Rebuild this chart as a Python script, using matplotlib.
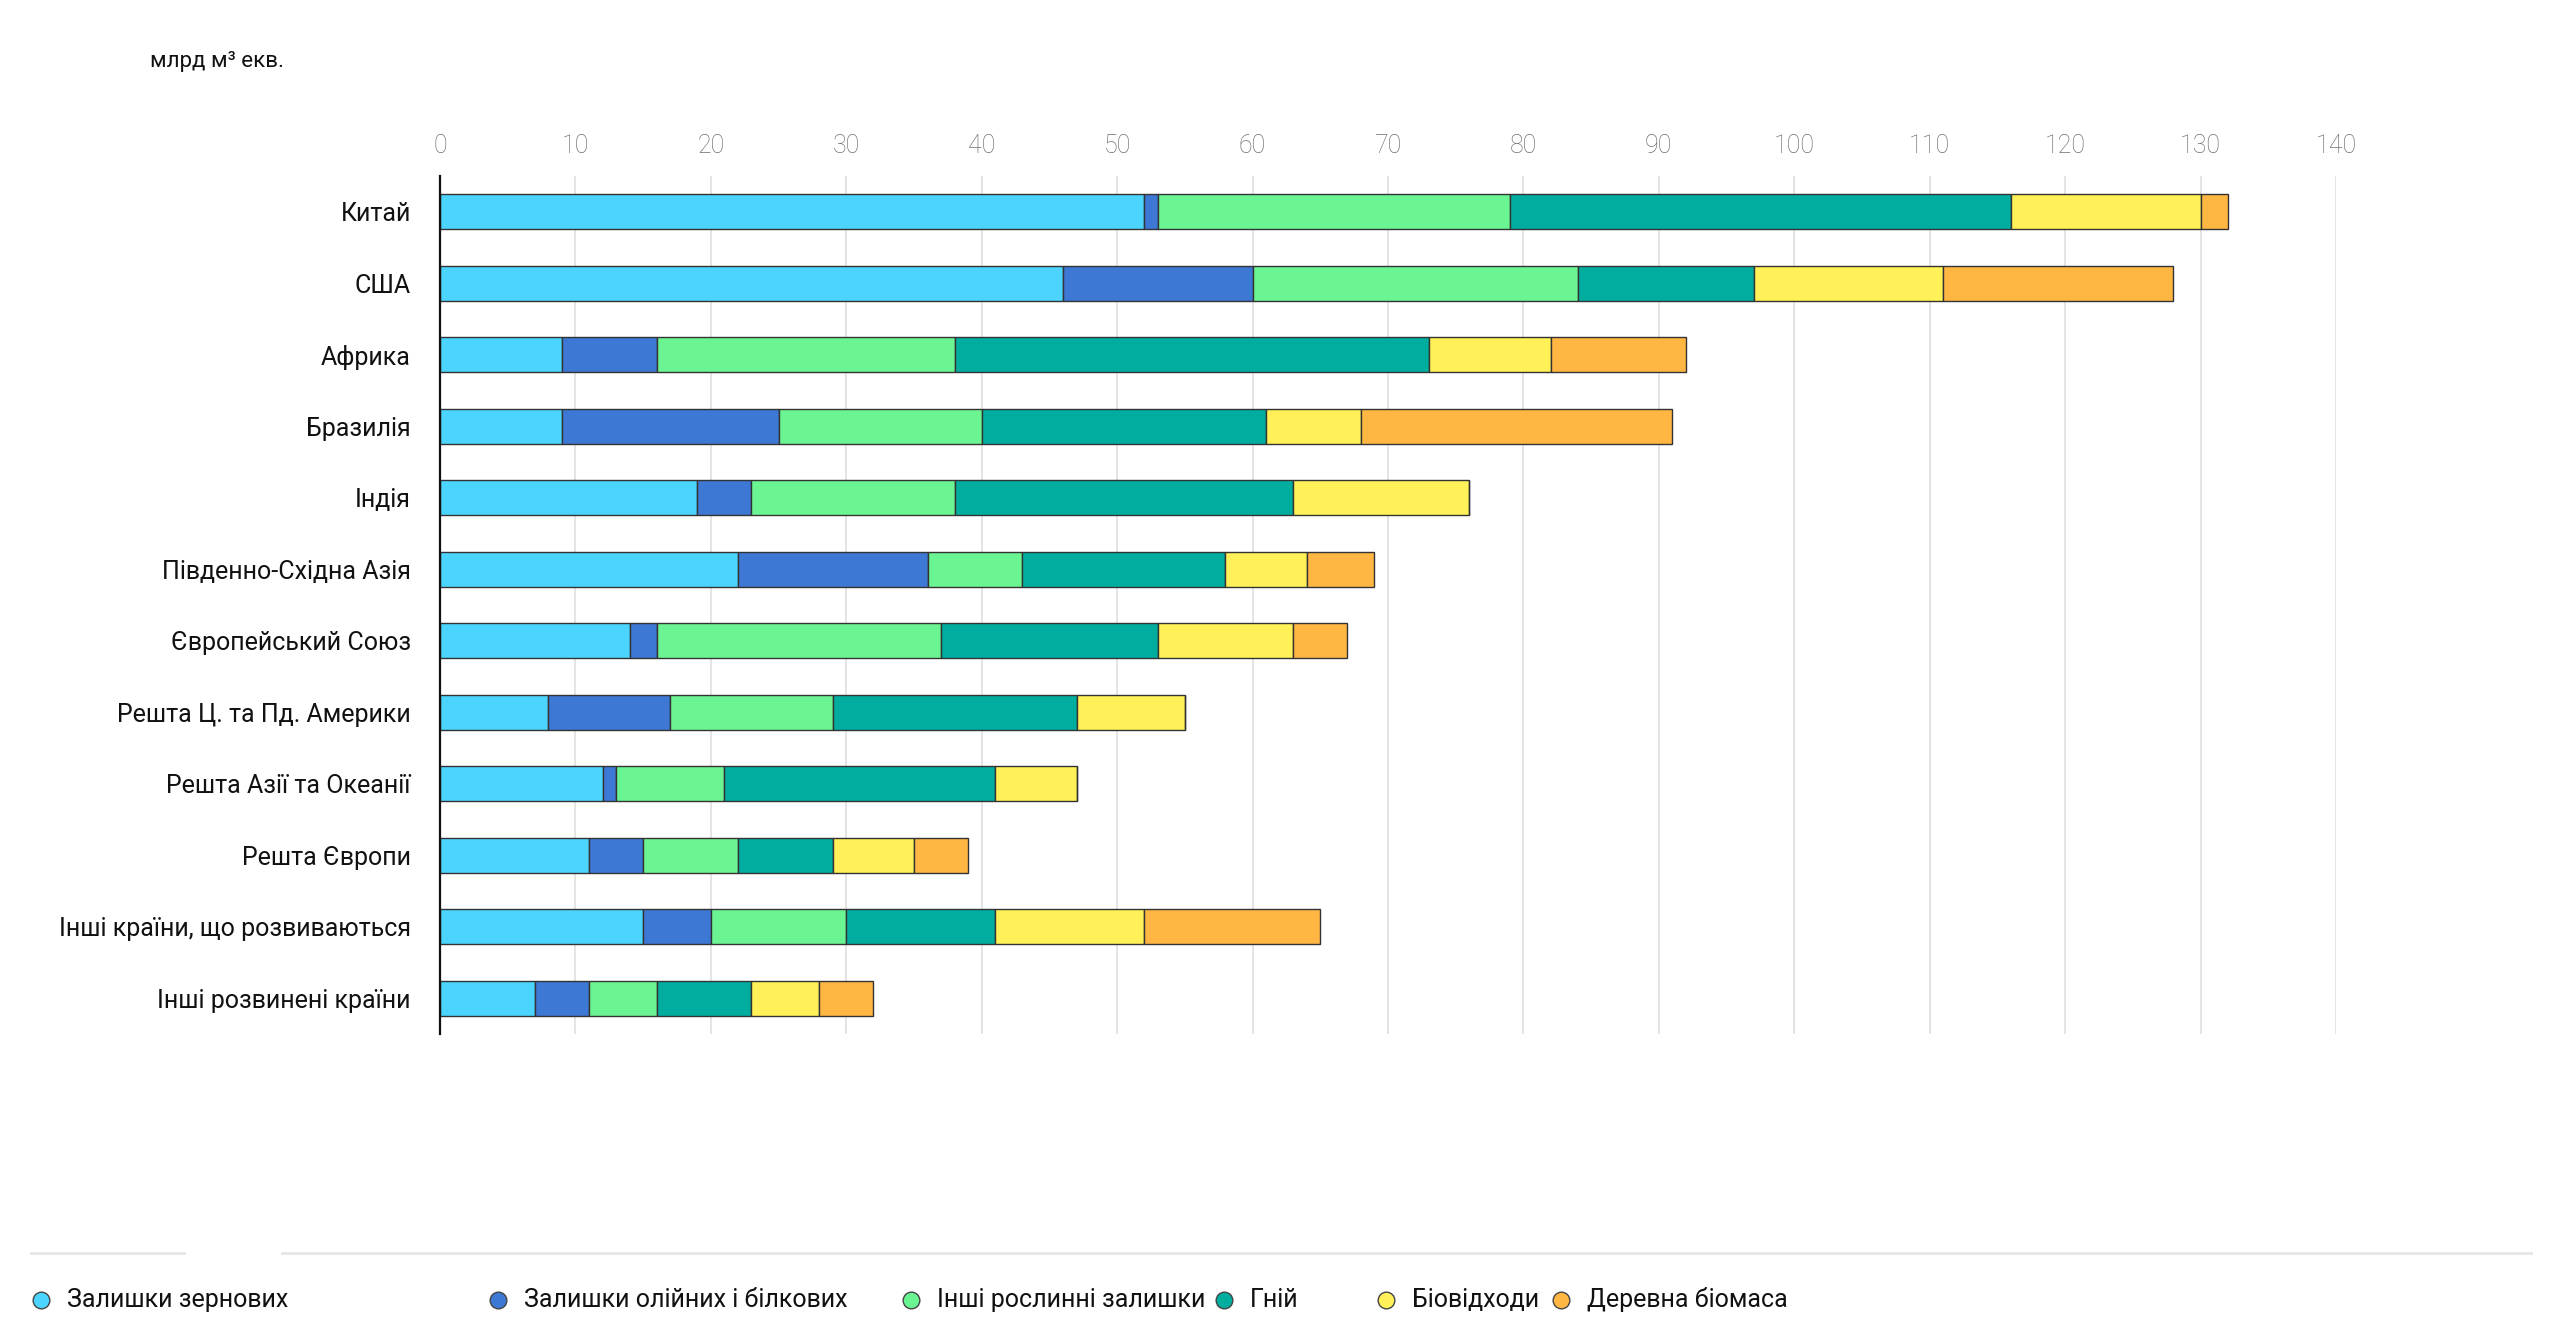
import matplotlib
matplotlib.use("Agg")
import matplotlib.pyplot as plt
from matplotlib.lines import Line2D
import numpy as np

plt.rcParams['font.family'] = ['Roboto', 'DejaVu Sans']

categories = ["Китай", "США", "Африка", "Бразилія", "Індія", "Південно-Східна Азія",
              "Європейський Союз", "Решта Ц. та Пд. Америки", "Решта Азії та Океанії",
              "Решта Європи", "Інші країни, що розвиваються", "Інші розвинені країни"]

series_names = ["Залишки зернових", "Залишки олійних і білкових", "Інші рослинні залишки",
                "Гній", "Біовідходи", "Деревна біомаса"]

grain    = [52, 46,  9,  9, 19, 22, 14,  8, 12, 11, 15, 7]
oilseed  = [ 1, 14,  7, 16,  4, 14,  2,  9,  1,  4,  5, 4]
other    = [26, 24, 22, 15, 15,  7, 21, 12,  8,  7, 10, 5]
manure   = [37, 13, 35, 21, 25, 15, 16, 18, 20,  7, 11, 7]
biowaste = [14, 14,  9,  7, 13,  6, 10,  8,  6,  6, 11, 5]
wood     = [ 2, 17, 10, 23,  0,  5,  4,  0,  0,  4, 13, 4]

series = [grain, oilseed, other, manure, biowaste, wood]
colors = ["#4BD4FE", "#3D78D4", "#6BF592", "#00AD9F", "#FFF157", "#FFB642"]

xticks = list(range(0, 141, 10))
unit_label = "млрд м³ екв."

fig = plt.figure(figsize=(25.6, 13.37), dpi=100)
ax = fig.add_axes([440/2560, 1 - 1034/1337, (2336 - 440)/2560, (1034 - 176)/1337])

y = np.arange(len(categories))
left = np.zeros(len(categories))
for vals, col, name in zip(series, colors, series_names):
    v = np.array(vals, dtype=float)
    ax.barh(y, v, left=left, height=0.49, color=col, edgecolor="#333333",
            linewidth=1.0, label=name, zorder=3)
    left += v

ax.set_ylim(len(categories) - 0.5, -0.5)
ax.set_xlim(0, 140)
ax.set_yticks(y)
ax.set_yticklabels(categories, fontsize=18, color="#111111")
ax.set_xticks(xticks)
ax.set_xticklabels([str(t) for t in xticks], fontsize=18, color="#6f6f6f",
                   fontweight="light")
ax.xaxis.tick_top()
ax.tick_params(axis='x', length=0, pad=13)
ax.tick_params(axis='y', length=0, pad=21)
ax.grid(axis='x', color="#e2e2e2", linewidth=1.3, zorder=0)
ax.set_axisbelow(True)
for s in ["top", "right", "bottom"]:
    ax.spines[s].set_visible(False)
ax.spines["left"].set_color("#111111")
ax.spines["left"].set_linewidth(1.6)
ax.spines["left"].set_zorder(4)

fig.text(150/2560, 1 - 62/1337, unit_label, fontsize=16, color="#111111",
         va="center", ha="left")

# separator line
fig.add_artist(Line2D([31/2560, 184/2560], [1 - 1253/1337]*2, color="#e6e6e6", lw=2))
fig.add_artist(Line2D([282/2560, 2531/2560], [1 - 1253/1337]*2, color="#e6e6e6", lw=2))

# legend
leg_x = [41, 498, 911, 1224, 1386, 1561]
leg_y = 1 - 1300/1337
for lx, col, name in zip(leg_x, colors, series_names):
    fig.add_artist(Line2D([lx/2560], [leg_y], marker="o", markersize=12,
                          markerfacecolor=col, markeredgecolor="#444444",
                          markeredgewidth=1.0, linestyle="none"))
    fig.text((lx + 26)/2560, leg_y, name, fontsize=18, color="#111111",
             va="center", ha="left")

fig.savefig("out.png", dpi=100, facecolor="white")
